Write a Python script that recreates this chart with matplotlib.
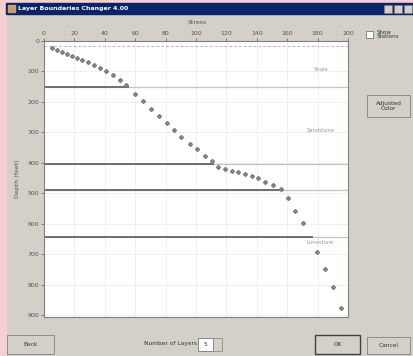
import numpy as np
import matplotlib.pyplot as plt
from matplotlib.patches import Rectangle

# stress vs depth points
stress = [5.3, 8.6, 11.8, 15.1, 18.4, 21.7, 25.0, 29.0, 32.9, 36.8, 40.8, 45.4, 50.0, 54.0,
          59.9, 65.1, 70.4, 75.7, 80.9, 85.5, 90.1, 96.1, 100.7, 105.9, 110.5,
          114.5, 119.1, 123.7, 127.7, 132.3, 136.9, 140.8, 145.4, 150.7, 155.9,
          160.6, 165.2, 170.4,
          179.6, 184.9, 190.2, 195.4]
depth = [23, 30, 36, 43, 49, 56, 62, 69, 79, 89, 99, 112, 128, 145,
         174, 197, 223, 246, 269, 292, 315, 338, 355, 378, 394,
         414, 420, 427, 430, 437, 443, 450, 463, 473, 486,
         516, 558, 598,
         693, 746, 808, 877]

boundary_depth = [150, 404, 489, 643]
boundary_stress = [55, 111, 157, 176]
surface_depth = 16

layer_names = ['Shale', 'Sandstone', 'Limestone']
layer_label_depth = [95, 292, 660]

W, H = 413, 356
win_gray = '#d4d0c8'


def fx(x):
    return x / W


def fy(y):
    return 1 - y / H


fig = plt.figure(figsize=(W / 100, H / 100), dpi=100, facecolor=win_gray)

# window chrome
fig.patches.append(Rectangle((0, 0), fx(6), 1, transform=fig.transFigure,
                             color='#f6cfd0', zorder=0))
fig.patches.append(Rectangle((0, fy(3)), 1, 3 / H, transform=fig.transFigure,
                             color='#f6cfd0', zorder=0))
fig.patches.append(Rectangle((fx(6), fy(14)), fx(407), 11 / H, transform=fig.transFigure,
                             color='#0a246a', zorder=1))
fig.patches.append(Rectangle((fx(8), fy(12)), fx(7), 7 / H, transform=fig.transFigure,
                             color='#c8a070', zorder=2))
for bx in [384, 394, 404]:
    fig.patches.append(Rectangle((fx(bx), fy(13)), fx(8), 8 / H, transform=fig.transFigure,
                                 facecolor=win_gray, edgecolor='#808080', lw=0.4, zorder=2))
fig.text(fx(18), fy(8.5), 'Layer Boundaries Changer 4.00', color='white', fontsize=4.5,
         fontweight='bold', va='center', ha='left')

ax = fig.add_axes([fx(44), fy(317), fx(304), 276 / H])
ax.set_facecolor('white')
ax.set_xlim(0, 200)
ax.set_ylim(905, 0)
ax.set_xticks(np.arange(0, 201, 20))
ax.set_yticks(np.arange(0, 901, 100))
ax.xaxis.tick_top()
ax.tick_params(labelsize=4.5, length=2, width=0.5, colors='#555555', pad=1.5)
ax.grid(True, color='#ececec', lw=0.6)
ax.set_axisbelow(True)
for s in ax.spines.values():
    s.set_color('#808080')
    s.set_linewidth(0.8)

ax.axhline(surface_depth, color='#b8b8b8', lw=0.7, ls=(0, (3, 2)))
for d, s in zip(boundary_depth, boundary_stress):
    ax.axhline(d, color='#c4c4c4', lw=0.9)
    ax.plot([0, s], [d, d], color='#6e6e6e', lw=1.4)

ax.plot(stress, depth, ls='none', marker='D', ms=2.0, color='#8e8e8e', mec='#7c7c7c')

for name, d in zip(layer_names, layer_label_depth):
    ax.text(182, d, name, fontsize=3.8, color='#9a9a9a', ha='center', va='center')

fig.text(fx(197), fy(22), 'Stress', fontsize=4.5, color='#555555', ha='center', va='center')
fig.text(fx(17), fy(179), 'Depth (feet)', fontsize=4.5, color='#555555', rotation=90,
         ha='center', va='center')

# controls on the right
fig.patches.append(Rectangle((fx(366), fy(38)), fx(7), 7 / H, transform=fig.transFigure,
                             facecolor='white', edgecolor='#606060', lw=0.5))
fig.text(fx(377), fy(34.5), 'Show\nStations', fontsize=4, color='#333333', va='center',
         ha='left', linespacing=0.9)


def button(x0, y0, x1, y1, label, bold_edge=False):
    fig.patches.append(Rectangle((fx(x0), fy(y1)), fx(x1 - x0), (y1 - y0) / H,
                                 transform=fig.transFigure, facecolor=win_gray,
                                 edgecolor='#404040' if bold_edge else '#808080',
                                 lw=1.0 if bold_edge else 0.6))
    fig.text(fx((x0 + x1) / 2), fy((y0 + y1) / 2), label, fontsize=4.2, color='#333333',
             ha='center', va='center', linespacing=0.9)


button(367, 95, 410, 117, 'Adjusted\nColor')
button(7, 335, 54, 354, 'Back')
button(315, 335, 360, 354, 'OK', bold_edge=True)
button(367, 337, 410, 354, 'Cancel')

fig.text(fx(171), fy(344), 'Number of Layers', fontsize=4.2, color='#333333',
         ha='center', va='center')
fig.patches.append(Rectangle((fx(198), fy(351)), fx(15), 13 / H, transform=fig.transFigure,
                             facecolor='white', edgecolor='#606060', lw=0.5))
fig.text(fx(205), fy(344.5), '5', fontsize=4.2, color='#333333', ha='center', va='center')
fig.patches.append(Rectangle((fx(213), fy(351)), fx(9), 13 / H, transform=fig.transFigure,
                             facecolor=win_gray, edgecolor='#808080', lw=0.5))

fig.savefig('out.png', dpi=100, facecolor=win_gray)
